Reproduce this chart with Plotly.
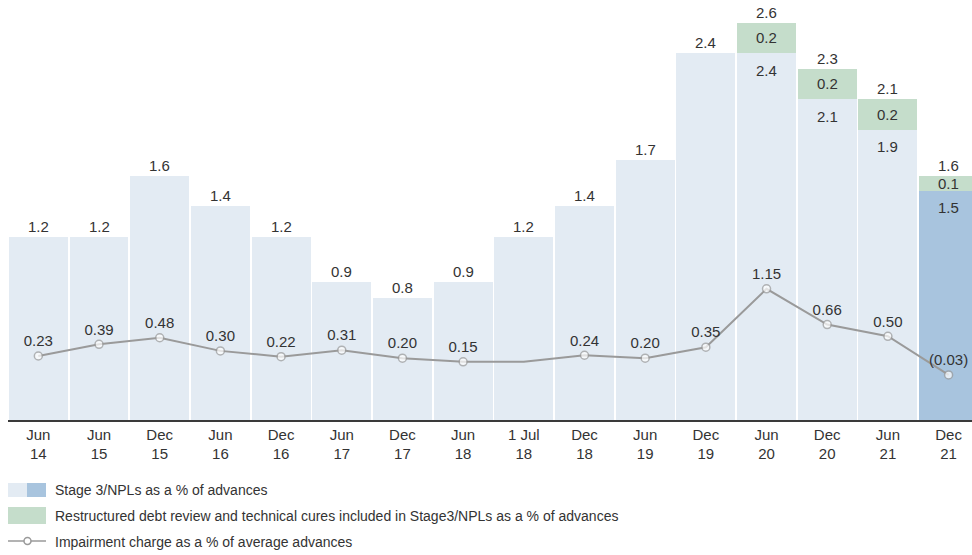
import plotly.graph_objects as go

periods = ["Jun<br>14", "Jun<br>15", "Dec<br>15", "Jun<br>16", "Dec<br>16", "Jun<br>17",
           "Dec<br>17", "Jun<br>18", "1 Jul<br>18", "Dec<br>18", "Jun<br>19", "Dec<br>19",
           "Jun<br>20", "Dec<br>20", "Jun<br>21", "Dec<br>21"]
stage3 = [1.2, 1.2, 1.6, 1.4, 1.2, 0.9, 0.8, 0.9, 1.2, 1.4, 1.7, 2.4, 2.4, 2.1, 1.9, 1.5]
restructured = [None] * 12 + [0.2, 0.2, 0.2, 0.1]
totals = [1.2, 1.2, 1.6, 1.4, 1.2, 0.9, 0.8, 0.9, 1.2, 1.4, 1.7, 2.4, 2.6, 2.3, 2.1, 1.6]
impairment = [0.23, 0.39, 0.48, 0.30, 0.22, 0.31, 0.20, 0.15, 0.15, 0.24, 0.20, 0.35,
              1.15, 0.66, 0.50, -0.03]
impairment_text = ["0.23", "0.39", "0.48", "0.30", "0.22", "0.31", "0.20", "0.15", "",
                   "0.24", "0.20", "0.35", "1.15", "0.66", "0.50", "(0.03)"]

FONT = "Liberation Sans, Arial, sans-serif"
TXT = "#333333"
LIGHT = "#e3ebf3"
DARK = "#a8c4de"
GREEN = "#c5ddcb"
GREY = "#9a9a9a"

W, H = 972, 555
L, R, T, B = 8, 0, 10, 135
PW, PH = W - L - R, H - T - B


def px(x):
    return (x - L) / PW


def py(y):
    return (H - B - y) / PH


x = list(range(len(periods)))
bar_colors = [LIGHT] * (len(periods) - 1) + [DARK]

fig = go.Figure()
fig.add_trace(go.Bar(x=x, y=stage3, marker=dict(color=bar_colors, line=dict(width=0)),
                     hoverinfo="skip", showlegend=False))
fig.add_trace(go.Bar(x=x, y=restructured, marker=dict(color=GREEN, line=dict(width=0)),
                     hoverinfo="skip", showlegend=False))
fig.add_trace(go.Scatter(x=x, y=impairment, yaxis="y2", mode="lines+markers+text",
                         text=impairment_text, textposition="top center",
                         textfont=dict(size=15, color=TXT, family=FONT),
                         line=dict(color=GREY, width=2),
                         marker=dict(size=[0 if t == "" else 8 for t in impairment_text],
                                     color="white", line=dict(color=GREY, width=1.5)),
                         cliponaxis=False, showlegend=False))

ann = []
for i in x:
    ann.append(dict(x=i, y=totals[i], text=f"{totals[i]:.1f}", yanchor="bottom",
                    showarrow=False, font=dict(size=15)))
    if restructured[i] is not None:
        ann.append(dict(x=i, y=stage3[i] + restructured[i] / 2, text=f"{restructured[i]:.1f}",
                        yanchor="middle", showarrow=False, font=dict(size=15)))
        ann.append(dict(x=i, y=stage3[i], text=f"{stage3[i]:.1f}", yanchor="middle",
                        yshift=-17, showarrow=False, font=dict(size=15)))

# legend drawn by hand
shapes = [
    dict(type="rect", xref="paper", yref="paper", x0=px(8), x1=px(27), y0=py(497), y1=py(483),
         fillcolor=LIGHT, line_width=0),
    dict(type="rect", xref="paper", yref="paper", x0=px(27), x1=px(46), y0=py(497), y1=py(483),
         fillcolor=DARK, line_width=0),
    dict(type="rect", xref="paper", yref="paper", x0=px(8), x1=px(46), y0=py(524), y1=py(507),
         fillcolor=GREEN, line_width=0),
    dict(type="line", xref="paper", yref="paper", x0=px(8), x1=px(46), y0=py(541), y1=py(541),
         line=dict(color=GREY, width=1.5)),
    dict(type="circle", xref="paper", yref="paper", x0=px(24), x1=px(31), y0=py(544.5),
         y1=py(537.5), fillcolor="white", line=dict(color=GREY, width=1.5)),
]
legend_items = [("Stage 3/NPLs as a % of advances", 490),
                ("Restructured debt review and technical cures included in Stage3/NPLs as a % of advances", 516),
                ("Impairment charge as a % of average advances", 542)]
for label, yy in legend_items:
    ann.append(dict(xref="paper", yref="paper", x=px(53), y=py(yy), text=label,
                    xanchor="left", yanchor="middle", showarrow=False))

fig.update_layout(
    width=W, height=H, margin=dict(l=L, r=R, t=T, b=B),
    paper_bgcolor="white", plot_bgcolor="white",
    barmode="stack", bargap=0.03,
    font=dict(family=FONT, size=14, color=TXT),
    annotations=ann, shapes=shapes,
    xaxis=dict(tickmode="array", tickvals=x, ticktext=periods, range=[-0.5, 15.386],
               showgrid=False, zeroline=False, showline=True, linecolor="#3a3a3a",
               linewidth=1.5, ticks="", tickfont=dict(size=15, color=TXT)),
    yaxis=dict(range=[0, 2.683], visible=False),
    yaxis2=dict(range=[-0.647, 4.97], overlaying="y", visible=False),
)

fig.write_html("out.html", config={"displayModeBar": False},
               post_script="document.body.style.margin='0';")
